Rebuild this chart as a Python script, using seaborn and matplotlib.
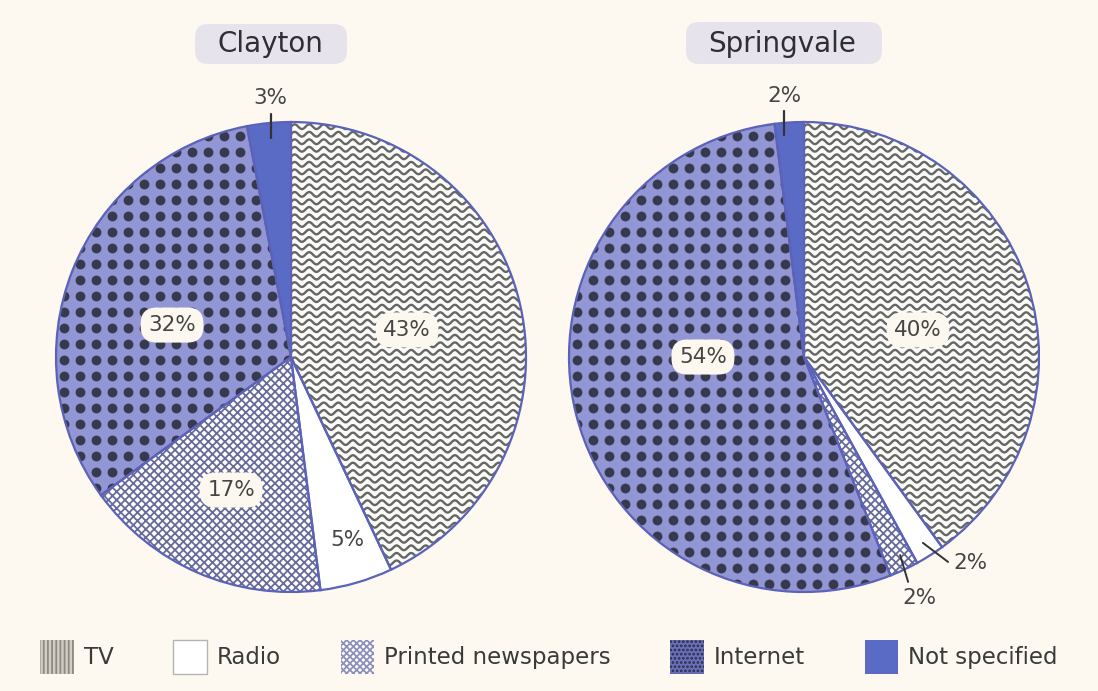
import numpy as np
import matplotlib
matplotlib.use("Agg")
import matplotlib.pyplot as plt
import seaborn as sns
from matplotlib.patches import Wedge, Patch, FancyBboxPatch
from matplotlib.collections import LineCollection

# ---------------- data ----------------
categories = ["TV", "Radio", "Printed newspapers", "Internet", "Not specified"]
towns = ["Clayton", "Springvale"]
clayton_values = [43, 5, 17, 32, 3]
springvale_values = [40, 2, 2, 54, 2]
clayton_labels = ["43%", "5%", "17%", "32%", "3%"]
springvale_labels = ["40%", "2%", "2%", "54%", "2%"]

# ---------------- style ----------------
sns.set_theme(style="white")
plt.rcParams["font.family"] = ["DejaVu Sans"]
plt.rcParams["hatch.linewidth"] = 1.3

BG = "#fdf9f1"
EDGE = "#5b62b8"
TEXT = "#454545"
face_colors = ["#fbfbf8", "#ffffff", "#ffffff", "#9296d4", "#5a6bc6"]

W, H = 1098, 691
fig = plt.figure(figsize=(W / 100, H / 100), dpi=100, facecolor=BG)

R_PX = 235.0
LIM = 1.15
centers_px = [(291, 357), (804, 357)]


def make_ax(cx, cy):
    size = 2 * LIM * R_PX
    ax = fig.add_axes([(cx - size / 2) / W, (H - cy - size / 2) / H, size / W, size / H])
    ax.axis("off")
    ax.patch.set_alpha(0)
    return ax


def fix_limits(ax):
    ax.set_xlim(-LIM, LIM)
    ax.set_ylim(-LIM, LIM)
    ax.set_aspect("equal")


def texture(ax, wedges):
    # TV: wavy lines
    x = np.linspace(-1.1, 1.1, 800)
    segs = [np.column_stack([x, y0 + 0.010 * np.sin(2 * np.pi * x / 0.062)])
            for y0 in np.arange(-1.1, 1.1, 0.032)]
    lc = LineCollection(segs, colors="#666666", linewidths=1.7, zorder=2)
    ax.add_collection(lc)
    lc.set_clip_path(wedges[0])
    # Printed newspapers: crosshatch
    w = wedges[2]
    hp = Wedge(w.center, w.r, w.theta1, w.theta2, facecolor="none",
               edgecolor="#676b9a", hatch="xxxx", linewidth=0, zorder=2)
    ax.add_patch(hp)
    # Internet: dot grid
    g = np.arange(-1.1, 1.1, 0.068)
    gx, gy = np.meshgrid(g, g)
    sc = ax.scatter(gx.ravel(), gy.ravel(), s=50, color="#373a4f", linewidths=0, zorder=2)
    sc.set_clip_path(wedges[3])


def draw_pie(ax, values):
    wedges, _ = ax.pie(values, radius=1, startangle=90, counterclock=False,
                       colors=face_colors,
                       wedgeprops=dict(linewidth=0, edgecolor="none"))
    texture(ax, wedges)
    outl, _ = ax.pie(values, radius=1, startangle=90, counterclock=False,
                     colors=["none"] * len(values),
                     wedgeprops=dict(linewidth=1.6, edgecolor=EDGE))
    for o in outl:
        o.set_zorder(3)
    fix_limits(ax)
    return wedges


boxed = dict(boxstyle="round,pad=0.35,rounding_size=0.75", facecolor="#fcf8ef", edgecolor="none")

# ---------------- Clayton ----------------
ax1 = make_ax(*centers_px[0])
draw_pie(ax1, clayton_values)
c_pos = [(0.494, 0.115), (0.238, -0.779), (-0.255, -0.566), (-0.506, 0.136), (-0.089, 1.10)]
c_box = [True, False, True, True, False]
for lab, (x, y), b in zip(clayton_labels, c_pos, c_box):
    ax1.text(x, y, lab, ha="center", va="center", fontsize=15.5, color=TEXT,
             bbox=boxed if b else None, zorder=5)
ax1.plot([-0.085, -0.085], [1.035, 0.93], color="#333333", lw=1.6, zorder=5, clip_on=False)

# ---------------- Springvale ----------------
ax2 = make_ax(*centers_px[1])
draw_pie(ax2, springvale_values)
s_pos = [(0.485, 0.115), (0.71, -0.877), (0.49, -1.026), (-0.43, 0.0), (-0.085, 1.11)]
s_box = [True, False, False, True, False]
for lab, (x, y), b in zip(springvale_labels, s_pos, s_box):
    ax2.text(x, y, lab, ha="center", va="center", fontsize=15.5, color=TEXT,
             bbox=boxed if b else None, zorder=5)
ax2.plot([-0.085, -0.085], [1.047, 0.945], color="#333333", lw=1.6, zorder=5, clip_on=False)
ax2.plot([0.506, 0.613], [-0.791, -0.872], color="#333333", lw=1.4, zorder=5, clip_on=False)
ax2.plot([0.409, 0.443], [-0.843, -0.957], color="#333333", lw=1.4, zorder=5, clip_on=False)

# ---------------- titles ----------------
title_boxes = [(195, 24, 152, 40), (686, 22, 196, 42)]
title_centers = [(270, 44), (782, 44)]
for town, (bx, by, bw, bh), (tx, ty) in zip(towns, title_boxes, title_centers):
    fig.patches.append(FancyBboxPatch((bx / W, 1 - (by + bh) / H), bw / W, bh / H,
                                      boxstyle="round,pad=0,rounding_size=0.012",
                                      transform=fig.transFigure, facecolor="#e6e3ec",
                                      edgecolor="none", mutation_aspect=W / H))
    fig.text(tx / W, 1 - ty / H, town, ha="center", va="center", fontsize=20, color="#2e2e33")

# ---------------- legend ----------------
handles = [
    Patch(facecolor="#d2cec6", edgecolor="#8e8a82", hatch="||||", linewidth=0, label=categories[0]),
    Patch(facecolor="#ffffff", edgecolor="#b4b4b4", linewidth=1.0, label=categories[1]),
    Patch(facecolor="#ffffff", edgecolor="#8c90ba", hatch="xxxxx", linewidth=0, label=categories[2]),
    Patch(facecolor="#6a70b8", edgecolor="#2a2d4a", hatch="....", linewidth=0, label=categories[3]),
    Patch(facecolor="#5a6bc6", edgecolor="#5a6bc6", linewidth=0, label=categories[4]),
]
leg = fig.legend(handles=handles, loc="center", bbox_to_anchor=(0.5, 1 - 657 / H), ncol=5,
                 frameon=False, fontsize=16.5, handlelength=1.45, handleheight=1.9,
                 handletextpad=0.45, columnspacing=2.6, borderpad=0)
for t in leg.get_texts():
    t.set_color("#3a3a3a")

fig.savefig("out.png", dpi=100, facecolor=BG)
